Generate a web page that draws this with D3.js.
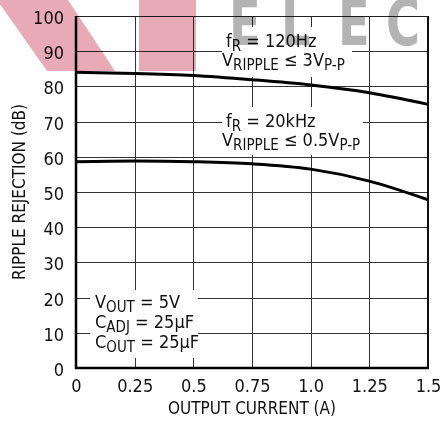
<!DOCTYPE html>
<html>
<head>
<meta charset="utf-8">
<script src="https://cdn.jsdelivr.net/npm/d3@7"></script>
<style>
  body { margin: 0; background: #fff; }
  svg { display: block; }
  .lbl { font-family: "Liberation Sans Narrow", "DejaVu Sans Condensed", "Liberation Sans", sans-serif; font-stretch: condensed; fill: #111; }
</style>
</head>
<body>
<svg id="chart" width="443" height="423"></svg>
<script>
// data
var currents = [0, 0.25, 0.5, 0.75, 1.0, 1.25, 1.5];
var rej120Hz = [84.0, 83.7, 83.1, 81.9, 80.4, 78.2, 74.9];
var rej20kHz = [58.6, 58.8, 58.6, 58.0, 56.5, 53.1, 47.8];
var xTicks = [0, 0.25, 0.5, 0.75, 1.0, 1.25, 1.5];
var xTickLabels = ["0", "0.25", "0.5", "0.75", "1.0", "1.25", "1.5"];
var yTicks = [0, 10, 20, 30, 40, 50, 60, 70, 80, 90, 100];

var plot = { left: 76, right: 428, top: 16, bottom: 368 };

function drawChart() {
  var svg = d3.select("#chart");
  var L = plot.left, R = plot.right, T = plot.top, B = plot.bottom;

  var x = d3.scaleLinear().domain([0, 1.5]).range([L, R]);
  var y = d3.scaleLinear().domain([0, 100]).range([B, T]);

  // grid
  svg.append("g").selectAll("line")
    .data(yTicks.slice(1, -1))
    .enter().append("line")
    .attr("x1", L).attr("x2", R)
    .attr("y1", function(d) { return Math.round(y(d)) + 0.5; })
    .attr("y2", function(d) { return Math.round(y(d)) + 0.5; })
    .style("stroke", "#333").style("stroke-width", 1);

  svg.append("g").selectAll("line")
    .data(xTicks.slice(1, -1))
    .enter().append("line")
    .attr("y1", T).attr("y2", B)
    .attr("x1", function(d) { return Math.round(x(d)) + 0.5; })
    .attr("x2", function(d) { return Math.round(x(d)) + 0.5; })
    .style("stroke", "#333").style("stroke-width", 1);

  // white boxes behind the notes
  var boxes = [
    [222, 27, 130, 50],
    [222, 107, 141, 48],
    [90, 290, 108, 68]
  ];
  svg.append("g").selectAll("rect")
    .data(boxes)
    .enter().append("rect")
    .attr("x", function(d) { return d[0]; })
    .attr("y", function(d) { return d[1]; })
    .attr("width", function(d) { return d[2]; })
    .attr("height", function(d) { return d[3]; })
    .style("fill", "#fff");

  // frame
  svg.append("line").attr("x1", L).attr("x2", R).attr("y1", T + 0.5).attr("y2", T + 0.5)
    .style("stroke", "#222").style("stroke-width", 1);
  svg.append("line").attr("x1", R).attr("x2", R).attr("y1", T).attr("y2", B)
    .style("stroke", "#111").style("stroke-width", 2);
  svg.append("line").attr("x1", L).attr("x2", L).attr("y1", T).attr("y2", B + 1)
    .style("stroke", "#000").style("stroke-width", 2.5);
  svg.append("line").attr("x1", L - 1).attr("x2", R + 1).attr("y1", B).attr("y2", B)
    .style("stroke", "#000").style("stroke-width", 2.5);

  // curves
  var line = d3.line()
    .x(function(d, i) { return x(currents[i]); })
    .y(function(d) { return y(d); })
    .curve(d3.curveMonotoneX);

  [rej120Hz, rej20kHz].forEach(function(s) {
    svg.append("path")
      .attr("d", line(s))
      .style("fill", "none")
      .style("stroke", "#000")
      .style("stroke-width", 3);
  });

  // axes
  var xAxis = svg.append("g")
    .attr("transform", "translate(0," + (B + 11) + ")")
    .call(d3.axisBottom(x).tickValues(xTicks).tickSize(0)
      .tickFormat(function(d, i) { return xTickLabels[i]; }));
  xAxis.select(".domain").remove();
  xAxis.selectAll("text").attr("class", "lbl").style("font-size", "18px").attr("y", 0).attr("dy", "0.71em");

  var yAxis = svg.append("g")
    .attr("transform", "translate(" + (L - 12) + ",0)")
    .call(d3.axisLeft(y).tickValues(yTicks).tickSize(0));
  yAxis.select(".domain").remove();
  yAxis.selectAll("text").attr("class", "lbl").style("font-size", "18px").attr("x", 0).attr("dy", "0.42em");

  svg.append("text").attr("class", "lbl")
    .attr("x", (L + R) / 2).attr("y", 414)
    .attr("text-anchor", "middle")
    .style("font-size", "17px")
    .text("OUTPUT CURRENT (A)");

  svg.append("text").attr("class", "lbl")
    .attr("transform", "translate(25," + ((T + B) / 2) + ") rotate(-90)")
    .attr("text-anchor", "middle")
    .style("font-size", "17px")
    .text("RIPPLE REJECTION (dB)");

  // notes with subscripts
  function note(px, py, parts) {
    var t = svg.append("text").attr("class", "lbl")
      .attr("x", px).attr("y", py).style("font-size", "18px");
    parts.forEach(function(p) {
      var sp = t.append("tspan").text(p[0]);
      if (p[1]) {
        sp.style("font-size", "15px").attr("dy", 4);
      } else {
        sp.attr("dy", p[2] || 0);
      }
    });
  }

  note(226, 47, [["f"], ["R", 1], ["\u00a0= 120Hz", 0, -4]]);
  note(222, 66, [["V"], ["RIPPLE", 1], ["\u00a0\u2264 3V", 0, -4], ["P-P", 1]]);
  note(226, 127, [["f"], ["R", 1], ["\u00a0= 20kHz", 0, -4]]);
  note(222, 146, [["V"], ["RIPPLE", 1], ["\u00a0\u2264 0.5V", 0, -4], ["P-P", 1]]);
  note(95, 308, [["V"], ["OUT", 1], ["\u00a0= 5V", 0, -4]]);
  note(95, 328, [["C"], ["ADJ", 1], ["\u00a0= 25\u00b5F", 0, -4]]);
  note(95, 348, [["C"], ["OUT", 1], ["\u00a0= 25\u00b5F", 0, -4]]);

  // watermark
  var wm = svg.append("g").style("mix-blend-mode", "multiply");
  wm.append("polygon")
    .attr("points", "-3,0 68,0 115,71 47,71")
    .style("fill", "#e9aab8");
  wm.append("rect")
    .attr("x", 139).attr("y", 0).attr("width", 57).attr("height", 71)
    .style("fill", "#e9aab8");

  var letters = [["E", 229], ["L", 281], ["E", 338], ["C", 386]];
  wm.selectAll("text")
    .data(letters)
    .enter().append("text")
    .attr("transform", function(d) { return "translate(" + d[1] + ",45) scale(0.8,1.1)"; })
    .style("font-family", "DejaVu Sans, sans-serif")
    .style("font-weight", "bold")
    .style("font-size", "58px")
    .style("fill", "#b3b3b3")
    .text(function(d) { return d[0]; });
}

drawChart();
</script>
</body>
</html>
